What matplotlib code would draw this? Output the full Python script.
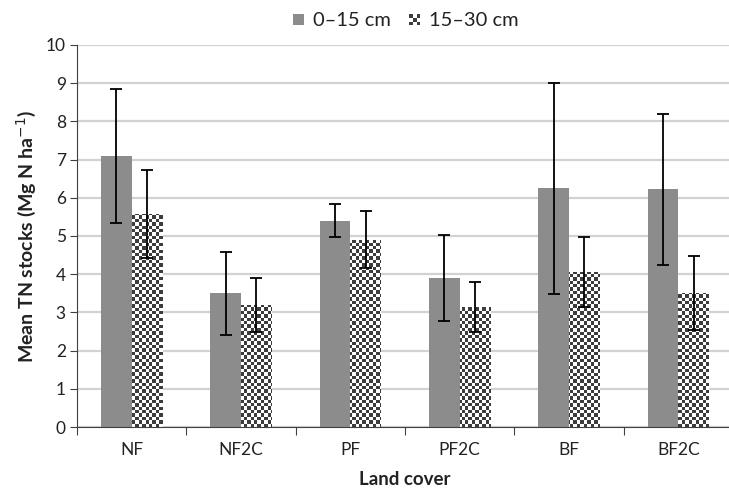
import numpy as np
import matplotlib
matplotlib.use("Agg")
import matplotlib.pyplot as plt
from matplotlib.patches import Rectangle
from matplotlib.legend_handler import HandlerBase

plt.rcParams['font.family'] = ['Lato', 'DejaVu Sans']

categories = ["NF", "NF2C", "PF", "PF2C", "BF", "BF2C"]
series_names = ["0\u201315 cm", "15\u201330 cm"]
top_vals = [7.1, 3.5, 5.4, 3.9, 6.25, 6.22]
top_err = [1.75, 1.08, 0.43, 1.12, 2.76, 1.97]
sub_vals = [5.58, 3.2, 4.9, 3.15, 4.05, 3.5]
sub_err = [1.15, 0.7, 0.75, 0.65, 0.92, 0.97]
yticks = list(range(0, 11))

W, H = 729, 490
fig = plt.figure(figsize=(W / 100, H / 100), dpi=100)
ax_left, ax_bottom = 77 / W, 1 - 427 / H
ax_w, ax_h = (733 - 77) / W, (427 - 45) / H
ax = fig.add_axes([ax_left, ax_bottom, ax_w, ax_h])

n = len(categories)
x = np.arange(n)
bw = 0.28
gray = "#8c8c8c"
dark = "#3c3c3c"
txt = "#222222"

ax.set_xlim(-0.5, n - 0.5)
ax.set_ylim(0, 10)

ax.set_yticks(yticks)
ax.yaxis.grid(True, color="#d2d2d2", lw=1.6, zorder=0)
ax.set_axisbelow(True)

b1 = ax.bar(x - bw / 2, top_vals, bw, color=gray, zorder=2, linewidth=0)
b2 = ax.bar(x + bw / 2, sub_vals, bw, color="white", zorder=2, linewidth=0)

# checker pattern inside 15-30 bars
cell_px = 3.4
ax_px_w, ax_px_h = ax_w * W, ax_h * H
ncols = int(np.ceil(ax_px_w / cell_px))
nrows = int(np.ceil(ax_px_h / cell_px))
ii, jj = np.indices((nrows, ncols))
checker = ((ii + jj) % 2).astype(float)
x0, x1 = ax.get_xlim()
cmap = matplotlib.colors.ListedColormap(["white", dark])
for rect in b2:
    im = ax.imshow(checker, cmap=cmap,
                   extent=(x0, x0 + ncols * cell_px / ax_px_w * (x1 - x0),
                           0, nrows * cell_px / ax_px_h * 10),
                   origin="lower", interpolation="nearest", aspect="auto", zorder=2.5)
    im.set_clip_path(rect)
ax.set_xlim(x0, x1)
ax.set_ylim(0, 10)

ax.errorbar(x - bw / 2, top_vals, yerr=top_err, fmt="none", ecolor="black",
            elinewidth=1.3, capsize=4.6, capthick=1.3, zorder=4)
ax.errorbar(x + bw / 2, sub_vals, yerr=sub_err, fmt="none", ecolor="black",
            elinewidth=1.3, capsize=4.6, capthick=1.3, zorder=4)

for s in ["top", "right"]:
    ax.spines[s].set_visible(False)
ax.spines["left"].set_color("#404040")
ax.spines["bottom"].set_color("#404040")
ax.tick_params(axis="y", direction="out", length=5, color="#404040",
               labelsize=12.5, labelcolor=txt, pad=3)
ax.set_xticks(np.arange(-0.5, n, 1.0))
ax.set_xticklabels([])
ax.tick_params(axis="x", direction="out", length=6, color="#404040")
ax.set_xticks(x, minor=True)
ax.set_xticklabels(categories, minor=True)
ax.tick_params(axis="x", which="minor", length=0, labelsize=12.5,
               labelcolor=txt, pad=11)

ax.set_ylabel("Mean TN stocks (Mg N ha$^{-1}$)", fontsize=14, fontweight="bold",
              color=txt, labelpad=6)
ax.set_xlabel("Land cover", fontsize=13.5, fontweight="bold", color=txt,
              labelpad=9)


class CheckerHandler(HandlerBase):
    def create_artists(self, legend, orig_handle, xdescent, ydescent, width,
                       height, fontsize, trans):
        s = min(width, height)
        x0 = -xdescent + width - s
        y0 = -ydescent
        arts = [Rectangle((x0, y0), s, s, facecolor="white", edgecolor="none",
                          transform=trans)]
        k = 3
        c = s / k
        for i in range(k):
            for j in range(k):
                if (i + j) % 2 == 0:
                    arts.append(Rectangle((x0 + i * c, y0 + j * c), c, c,
                                          facecolor=dark, edgecolor="none",
                                          transform=trans))
        return arts


class SquareHandler(HandlerBase):
    def create_artists(self, legend, orig_handle, xdescent, ydescent, width,
                       height, fontsize, trans):
        s = min(width, height)
        x0 = -xdescent + width - s
        return [Rectangle((x0, -ydescent), s, s, facecolor=gray,
                          edgecolor="none", transform=trans)]


h1, h2 = object(), object()
fig.legend([h1, h2], series_names, loc="center", bbox_to_anchor=(406 / W, 1 - 21 / H),
           ncol=2, frameon=False, fontsize=14.5, handlelength=0.55, handleheight=0.55,
           handletextpad=0.45, columnspacing=0.9,
           handler_map={h1: SquareHandler(), h2: CheckerHandler()},
           labelcolor=txt)

fig.savefig("out.png", dpi=100)
